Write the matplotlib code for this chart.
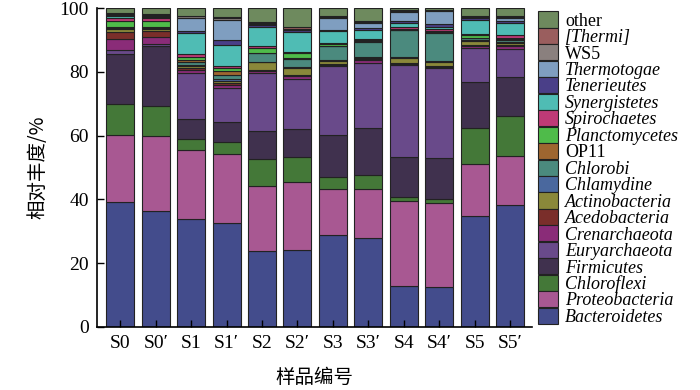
import numpy as np
import matplotlib
matplotlib.use("Agg")
import matplotlib.pyplot as plt

samples = ["S0", "S0\u2032", "S1", "S1\u2032", "S2", "S2\u2032",
           "S3", "S3\u2032", "S4", "S4\u2032", "S5", "S5\u2032"]

# relative abundance (%) per phylum, bottom of stack first
Bacteroidetes = [39.2, 36.4, 33.8, 32.7, 23.8, 24.1, 28.8, 28.0, 12.9, 12.6, 34.8, 38.2]
Proteobacteria = [20.9, 23.4, 21.6, 21.4, 20.5, 21.4, 14.4, 15.2, 26.6, 26.2, 16.3, 15.5]
Chloroflexi = [9.9, 9.5, 3.6, 3.8, 8.4, 7.9, 3.7, 4.3, 1.3, 1.3, 11.4, 12.4]
Firmicutes = [15.5, 18.8, 6.2, 6.4, 8.7, 8.7, 13.3, 14.9, 12.4, 12.8, 14.4, 12.2]
Euryarchaeota = [1.3, 0.8, 14.5, 10.8, 18.4, 15.7, 21.6, 20.5, 29.1, 28.4, 10.7, 9.0]
Crenarchaeota = [3.5, 2.1, 1.0, 0.8, 0.5, 0.8, 0.4, 0.8, 0.3, 0.3, 0.6, 0.8]
Acedobacteria = [2.3, 1.8, 0.5, 0.6, 0.3, 0.3, 0.2, 0.2, 0.2, 0.2, 0.3, 0.4]
Actinobacteria = [0.8, 0.6, 0.6, 0.7, 2.4, 2.4, 0.9, 0.5, 1.6, 1.3, 1.2, 0.6]
Chlamydine = [0.3, 0.3, 0.5, 0.6, 0.2, 0.2, 0.3, 0.3, 0.2, 0.3, 0.3, 0.4]
Chlorobi = [0.3, 0.3, 0.9, 1.1, 2.6, 2.6, 4.4, 4.6, 8.5, 8.9, 0.5, 0.4]
OP11 = [0.2, 0.2, 0.4, 1.5, 0.2, 0.3, 0.2, 0.3, 0.2, 0.2, 0.2, 0.3]
Planctomycetes = [1.7, 1.7, 1.0, 0.7, 1.6, 1.5, 0.6, 0.5, 0.3, 0.2, 0.8, 0.6]
Spirochaetes = [1.0, 0.9, 0.9, 0.8, 0.6, 0.5, 0.2, 0.2, 0.6, 0.7, 0.3, 0.7]
Synergistetes = [0.8, 0.4, 6.6, 6.6, 6.0, 6.0, 3.8, 2.8, 1.0, 0.7, 4.5, 4.0]
Tenerieutes = [0.2, 0.3, 0.8, 1.6, 0.6, 0.7, 0.5, 0.6, 0.7, 0.8, 0.5, 0.6]
Thermotogae = [0.2, 0.2, 3.9, 6.1, 0.2, 0.2, 3.6, 1.6, 3.0, 4.2, 0.5, 0.7]
WS5 = [0.2, 0.3, 0.6, 0.7, 0.4, 0.3, 0.4, 0.4, 0.3, 0.2, 0.2, 0.3]
Thermi = [0.2, 0.2, 0.3, 0.4, 0.4, 0.4, 0.3, 0.3, 0.2, 0.2, 0.2, 0.3]
other = [1.5, 1.8, 2.3, 2.7, 4.2, 6.0, 2.4, 4.0, 0.6, 0.5, 2.3, 2.6]

series = [
    ("Bacteroidetes", Bacteroidetes, "#434c8c", True),
    ("Proteobacteria", Proteobacteria, "#a85892", True),
    ("Chloroflexi", Chloroflexi, "#447838", True),
    ("Firmicutes", Firmicutes, "#40314e", True),
    ("Euryarchaeota", Euryarchaeota, "#694a8a", True),
    ("Crenarchaeota", Crenarchaeota, "#8a2c78", True),
    ("Acedobacteria", Acedobacteria, "#7a2e2a", True),
    ("Actinobacteria", Actinobacteria, "#8a883a", True),
    ("Chlamydine", Chlamydine, "#4a689e", True),
    ("Chlorobi", Chlorobi, "#4b8a7e", True),
    ("OP11", OP11, "#9e6630", False),
    ("Planctomycetes", Planctomycetes, "#4fbb4a", True),
    ("Spirochaetes", Spirochaetes, "#be3a76", True),
    ("Synergistetes", Synergistetes, "#4fbcb4", True),
    ("Tenerieutes", Tenerieutes, "#4a3f88", True),
    ("Thermotogae", Thermotogae, "#7f9ec0", True),
    ("WS5", WS5, "#8a807e", False),
    ("[Thermi]", Thermi, "#9a5e5e", True),
    ("other", other, "#6e8a5e", False),
]

plt.rcParams['font.family'] = ['Liberation Serif', 'DejaVu Serif']
cjk = ['Noto Sans CJK SC', 'DejaVu Sans']

fig = plt.figure(figsize=(7, 3.9), dpi=100)
ax = fig.add_axes([0.139, 0.162, 0.621, 0.817])

x = np.arange(len(samples))
bottom = np.zeros(len(samples))
handles = []
for name, vals, color, italic in series:
    vals = np.array(vals)
    b = ax.bar(x, vals, width=0.79, bottom=bottom, color=color,
               edgecolor="#222222", linewidth=0.8, label=name)
    handles.append(b)
    bottom += vals

ax.set_xlim(-0.65, 11.62)
ax.set_ylim(0, 100)
ax.set_yticks([0, 20, 40, 60, 80, 100])
ax.set_xticks(x)
ax.set_xticklabels(samples)
ax.spines['right'].set_visible(False)
ax.spines['top'].set_visible(False)
ax.spines['left'].set_linewidth(1.2)
ax.spines['bottom'].set_linewidth(1.2)
ax.tick_params(direction='in', length=5, width=1.0, labelsize=14, pad=6)

ax.set_ylabel("相对丰度/%", family=cjk, fontsize=14, labelpad=8)
ax.set_xlabel("样品编号", family=cjk, fontsize=14, labelpad=11)

leg = ax.legend(handles[::-1], [s[0] for s in series][::-1],
                loc='upper left', bbox_to_anchor=(1.014, 0.99), frameon=False,
                fontsize=13, handlelength=1.1, handleheight=1.0,
                labelspacing=-0.1, handletextpad=0.4, borderaxespad=0.0,
                borderpad=0.0)
for txt, s in zip(leg.get_texts(), series[::-1]):
    if s[3]:
        txt.set_fontstyle('italic')

fig.savefig("out.png", dpi=100)
